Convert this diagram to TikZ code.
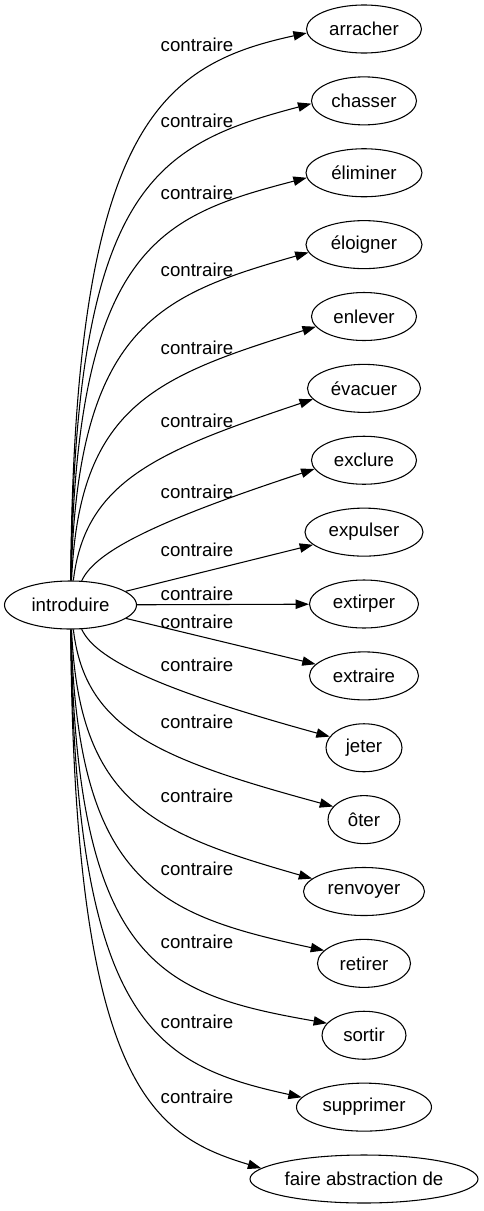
\documentclass[tikz,border=0pt]{standalone}
\usepackage{fontspec}
\setmainfont{Liberation Sans}
\usetikzlibrary{shapes.geometric}
\usetikzlibrary{arrows.meta}

\begin{document}
\begin{tikzpicture}[x=0.75pt,y=-0.75pt]
    \useasboundingbox (0,0) rectangle (483,1211);
    \begin{scope}[every node/.style={ellipse,draw,line width=0.8pt,inner sep=0pt,minimum height=36pt,font=\fontsize{14}{16}\selectfont}]
        \node(introduire)[minimum width=99pt] at (70.5,605) {introduire};
        \foreach \n/\t/\w [count=\i from 0] in {arracher/arracher/115, chasser/chasser/105, eliminer/éliminer/116, eloigner/éloigner/116, enlever/enlever/105, evacuer/évacuer/113, exclure/exclure/105, expulser/expulser/118, extirper/extirper/109, extraire/extraire/109, jeter/jeter/76, oter/ôter/72, renvoyer/renvoyer/121, retirer/retirer/93, sortir/sortir/84, supprimer/supprimer/135, abstraction/faire abstraction de/228}
            \node(\n)[minimum width=\w*0.75pt] at (364,29+71.875*\i) {\t};
    \end{scope}
    %Lines
    \begin{scope}[>={Triangle[length=10pt,width=7pt]}, line width=0.8pt, every node/.style={font=\fontsize{14}{16}\selectfont}]
        \foreach \n/\ax/\ay/\bx/\by/\a/\ly in {
            arracher/74/128/159/65/184/45,
            chasser/75/187/154/145/183/121,
            eliminer/76/246/160/216/185/193,
            eloigner/77/325/160/295/188/270,
            enlever/79/407/153/377/192/348,
            evacuer/85/481/158/451/192/421,
            exclure/95/552/153/522/190/492,
            jeter/95/658/153/688/162/665,
            oter/85/729/158/759/157/722,
            renvoyer/79/803/153/833/166/796,
            retirer/77/885/160/915/162/869,
            sortir/76/964/160/994/162/942,
            supprimer/75/1023/154/1065/171/1022,
            abstraction/74/1082/150/1135/174/1097}
        {
            \draw[->] (introduire) .. controls (\ax,\ay) and (\bx,\by) .. (\n.\a);
            \node(c-\n) at (197,\ly) {contraire};
        }
        \draw[->] (introduire) -- (expulser);
        \node(c-expulser) at (197,550) {contraire};
        \draw[->] (introduire) -- (extirper);
        \node(c-extirper) at (197,594) {contraire};
        \draw[->] (introduire) -- (extraire);
        \node(c-extraire) at (197,622) {contraire};
    \end{scope}
\end{tikzpicture}
\end{document}
